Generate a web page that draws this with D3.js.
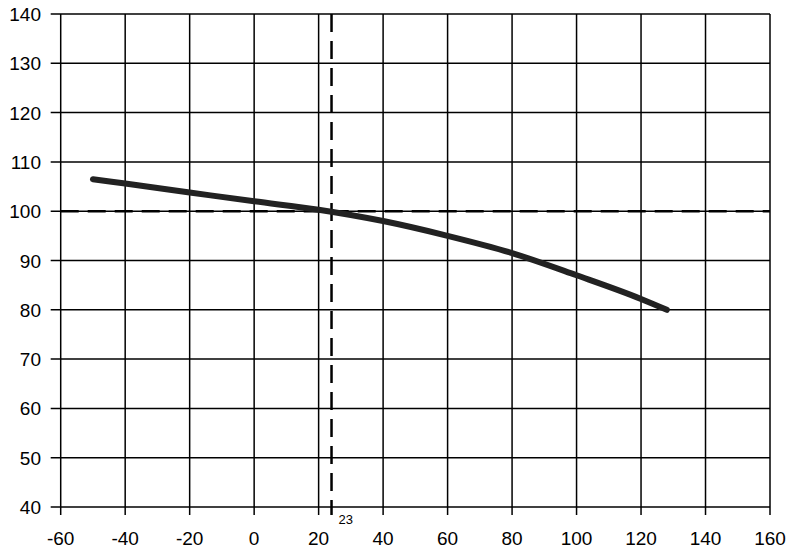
<!DOCTYPE html>
<html><head><meta charset="utf-8">
<script src="https://cdn.jsdelivr.net/npm/d3@7"></script>
<style>body{margin:0;background:#fff}text{font-family:"Liberation Sans",Arial,sans-serif}</style>
</head><body>
<svg width="790" height="551"></svg>
<script>
const xTicks = [-60, -40, -20, 0, 20, 40, 60, 80, 100, 120, 140, 160];
const yTicks = [40, 50, 60, 70, 80, 90, 100, 110, 120, 130, 140];
const curveX = [-50, -40, -20, 0, 20, 40, 60, 80, 100, 120, 128];
const curveY = [106.5, 105.6, 103.8, 102, 100.3, 98, 95, 91.5, 87, 82.2, 80];
const refX = 24, refLabel = "23", refY = 100;

const svg = d3.select("svg");
const x = d3.scaleLinear().domain([-60, 160]).range([60.7, 770]);
const y = d3.scaleLinear().domain([40, 140]).range([507, 14]);

// grid
svg.append("g").selectAll("line").data(xTicks).join("line")
  .attr("x1", d => x(d)).attr("x2", d => x(d)).attr("y1", y(140)).attr("y2", y(40) + 8)
  .attr("stroke", "#000").attr("stroke-width", 1.5);
svg.append("g").selectAll("line").data(yTicks).join("line")
  .attr("x1", x(-60) - 10).attr("x2", x(160)).attr("y1", d => y(d)).attr("y2", d => y(d))
  .attr("stroke", "#000").attr("stroke-width", 1.5);

svg.append("g").selectAll("text").data(xTicks).join("text")
  .attr("x", d => x(d)).attr("y", 545).attr("text-anchor", "middle")
  .attr("font-size", 19).text(d => d);
svg.append("g").selectAll("text").data(yTicks).join("text")
  .attr("x", 41).attr("y", d => y(d) + 7).attr("text-anchor", "end")
  .attr("font-size", 19).text(d => d);

// reference lines
svg.append("line").attr("x1", x(-60)).attr("x2", x(160)).attr("y1", y(refY)).attr("y2", y(refY))
  .attr("stroke", "#000").attr("stroke-width", 2.5).attr("stroke-dasharray", "18,9");
svg.append("line").attr("x1", x(refX)).attr("x2", x(refX)).attr("y1", y(140)).attr("y2", y(40) + 8)
  .attr("stroke", "#000").attr("stroke-width", 2.5).attr("stroke-dasharray", "18,9");
svg.append("text").attr("x", x(refX) + 7).attr("y", 524).attr("font-size", 13).text(refLabel);

// curve
const pts = curveX.map((d, i) => [d, curveY[i]]);
svg.append("path").datum(pts)
  .attr("d", d3.line().x(d => x(d[0])).y(d => y(d[1])).curve(d3.curveMonotoneX))
  .attr("fill", "none").attr("stroke", "#222").attr("stroke-width", 6).attr("stroke-linecap", "round");
</script>
</body></html>
